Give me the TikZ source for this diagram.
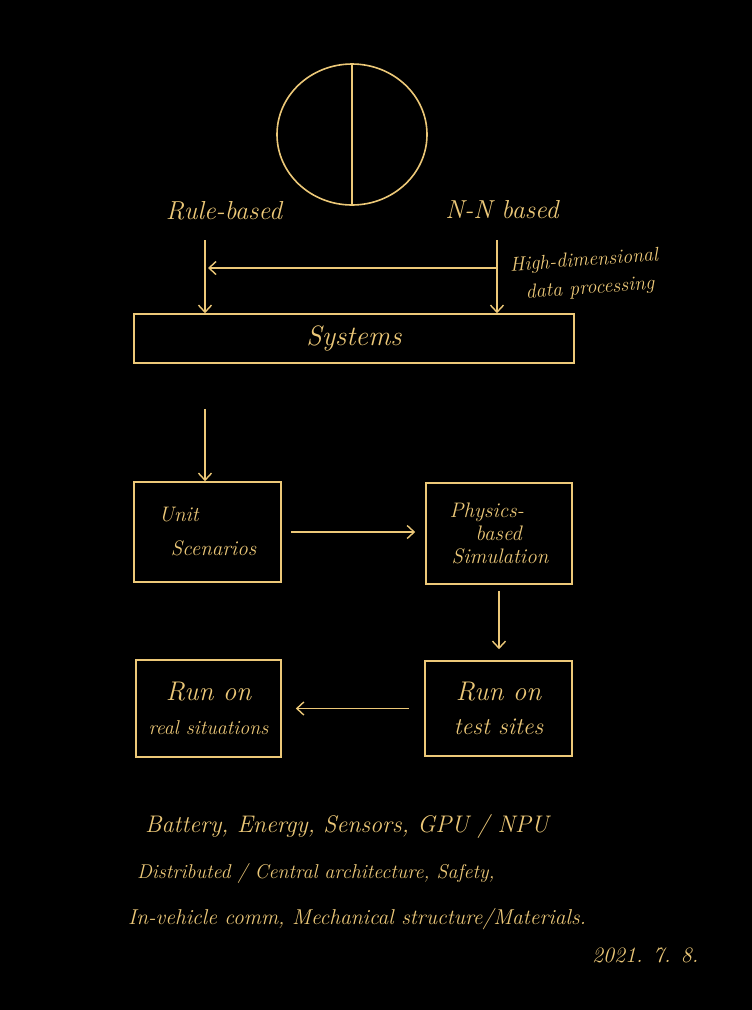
\documentclass[tikz,border=0pt]{standalone}
\usetikzlibrary{arrows.meta,shapes.geometric}
\definecolor{gold}{RGB}{236,200,120}
\newcommand{\fsz}[1]{\fontsize{#1}{#1}\selectfont}
\begin{document}
\begin{tikzpicture}[x=1pt,y=-1pt,
  line/.style={draw=gold,line width=1.6pt},
  arr/.style={line,-{Straight Barb[length=7pt,width=13pt,line width=1.4pt]}},
  box/.style={line,rectangle,inner sep=0pt,text=gold},
  hand/.style={text=gold,font=\itshape\fsz{19},inner sep=0pt},
  every node/.append style={text=gold}]
\useasboundingbox[fill=black] (0,0) rectangle (752,1010);
% circle
\node[line,ellipse,minimum width=150pt,minimum height=141pt,inner sep=0pt] (circ) at (352,134.5) {};
\draw[line] (circ.north) -- (circ.south);
% labels
\node[hand,font=\itshape\fsz{26}] (rb) at (224,211) {Rule-based};
\node[hand,font=\itshape\fsz{26}] (nn) at (502,210) {N-N based};
\node[hand,align=left,rotate=4,font=\itshape\fontsize{20}{28}\selectfont] (hd) at (585,275) {High-dimensional\\\hspace{14pt}data processing};
% boxes
\node[box,minimum width=440pt,minimum height=49pt,font=\itshape\fsz{28}] (sys) at (354,338.5) {Systems};
\node[box,minimum width=147pt,minimum height=100pt,align=left,font=\itshape\fontsize{21}{34}\selectfont] (unit) at (207.5,532) {Unit\\\hspace{12pt}Scenarios};
\node[box,minimum width=146pt,minimum height=101pt,align=left,font=\itshape\fontsize{21}{23}\selectfont] (phys) at (499,533.5) {Physics-\\\hspace{26pt}based\\\hspace{2pt}Simulation};
\node[box,minimum width=147pt,minimum height=95pt,align=center,font=\itshape\fontsize{24}{34}\selectfont] (test) at (498.5,708.5) {{\fsz{27}Run on}\\test sites};
\node[box,minimum width=145pt,minimum height=97pt,align=center,font=\itshape\fontsize{20}{34}\selectfont] (real) at (208.5,708.5) {{\fsz{27}Run on}\\real situations};
% connectors
\coordinate (la) at (205,240);
\coordinate (ra) at (497,240);
\coordinate (hr) at (497,268);
\coordinate (hl) at (208,268);
\draw[arr] (la) -- (la |- sys.north);
\draw[arr] (ra) -- (ra |- sys.north);
\draw[arr] (hr) -- (hl);
\draw[arr,shorten <=45pt] (sys.south -| la) -- (unit.north -| la);
\draw[arr,shorten <=9pt,shorten >=10pt] (unit.east) -- (phys.west |- unit.east);
\draw[arr,shorten <=6pt,shorten >=11pt] (phys.south) -- (phys.south |- test.north);
\draw[arr,shorten <=15pt,shorten >=14pt] (test.west) -- (real.east |- test.west);
% notes
\node[hand,anchor=west,font=\itshape\fsz{24}] (n1) at (145,826) {Battery, Energy, Sensors, GPU / NPU};
\node[hand,anchor=west,font=\itshape\fsz{20}] (n2) at (137,873) {Distributed / Central architecture, Safety,};
\node[hand,anchor=west,font=\itshape\fsz{21.5}] (n3) at (128,919) {In-vehicle comm, Mechanical structure/Materials.};
\node[hand,anchor=west,font=\itshape\fsz{22}] (dt) at (592,955) {2021. 7. 8.};
\end{tikzpicture}
\end{document}
